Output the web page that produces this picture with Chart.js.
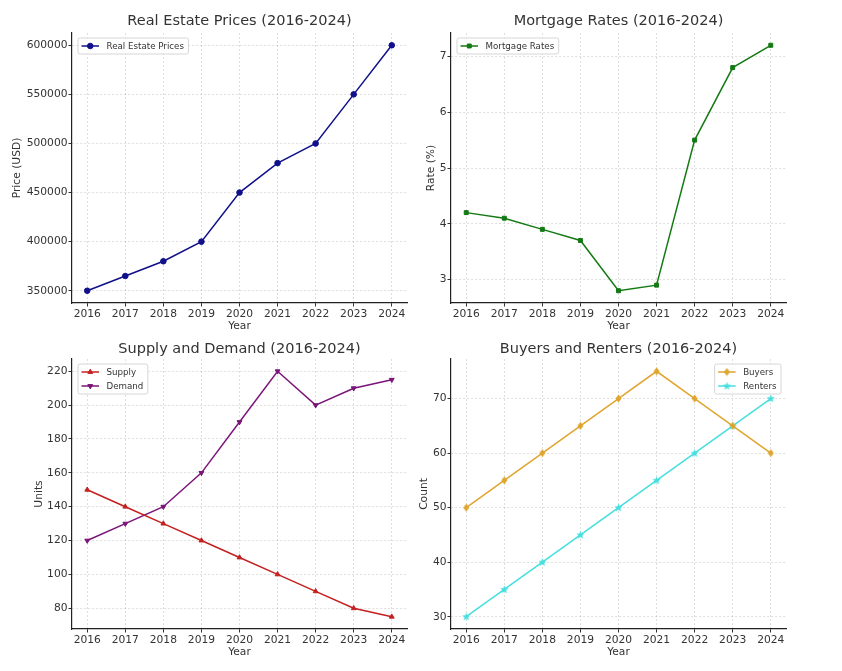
<!DOCTYPE html>
<html>
<head>
<meta charset="utf-8">
<script src="https://cdn.jsdelivr.net/npm/chart.js@4"></script>
<style>
  body { margin: 0; background: #fff; }
  #wrap { position: relative; width: 842px; height: 671px; }
  canvas { position: absolute; }
</style>
</head>
<body>
<div id="wrap">
  <canvas id="prices" width="421" height="335" style="left:0;top:0"></canvas>
  <canvas id="rates" width="428" height="335" style="left:414px;top:0"></canvas>
  <canvas id="supplyDemand" width="421" height="336" style="left:0;top:335px"></canvas>
  <canvas id="buyersRenters" width="428" height="336" style="left:414px;top:335px"></canvas>
</div>
<script>
const years = [2016, 2017, 2018, 2019, 2020, 2021, 2022, 2023, 2024]
const prices = [350000, 365000, 380000, 400000, 450000, 480000, 500000, 550000, 600000]
const rates = [4.2, 4.1, 3.9, 3.7, 2.8, 2.9, 5.5, 6.8, 7.2]
const supply = [150, 140, 130, 120, 110, 100, 90, 80, 75]
const demand = [120, 130, 140, 160, 190, 220, 200, 210, 215]
const buyers = [50, 55, 60, 65, 70, 75, 70, 65, 60]
const renters = [30, 35, 40, 45, 50, 55, 60, 65, 70]

// tick labels as they show on each y axis
const priceTicks = [350000, 400000, 450000, 500000, 550000, 600000]
const rateTicks = [3, 4, 5, 6, 7]
const unitTicks = [80, 100, 120, 140, 160, 180, 200, 220]
const countTicks = [30, 40, 50, 60, 70]

const FONT = 'DejaVu Sans'
const TEXT = '#333'

// little canvases for the markers chart.js doesn't have
const makeMarker = (color, kind) => {
  const c = document.createElement('canvas')
  c.width = 9
  c.height = 9
  const g = c.getContext('2d')
  g.fillStyle = color
  g.beginPath()
  if (kind === 'thinDiamond') {
    g.moveTo(4.5, 0.5); g.lineTo(7.5, 4.5); g.lineTo(4.5, 8.5); g.lineTo(1.5, 4.5)
  } else {
    for (let i = 0; i < 10; i++) {
      const r = i % 2 === 0 ? 4.3 : 1.9
      const a = -Math.PI / 2 + i * Math.PI / 5
      const px = 4.5 + r * Math.cos(a), py = 4.7 + r * Math.sin(a)
      i === 0 ? g.moveTo(px, py) : g.lineTo(px, py)
    }
  }
  g.closePath()
  g.fill()
  return c
}

const toPoints = (vals) => vals.map((v, i) => ({ x: years[i], y: v }))

const serie = (label, vals, color, pointStyle, rotation = 0) => ({
  label,
  data: toPoints(vals),
  borderColor: color,
  backgroundColor: color,
  borderWidth: 1.5,
  pointStyle,
  rotation,
  pointRadius: 2.8,
  pointHoverRadius: 2.8,
  pointBorderWidth: 1,
  tension: 0
})

// matplotlib-like legend box inside the axes
const boxLegend = {
  id: 'boxLegend',
  afterDatasetsDraw(chart, args, opts) {
    const ctx = chart.ctx
    const area = chart.chartArea
    const sets = chart.data.datasets
    ctx.save()
    ctx.font = '8.7px "' + FONT + '"'
    const textW = Math.max(...sets.map(d => ctx.measureText(d.label).width))
    const w = 28.5 + textW + 4.5
    const h = 16 + (sets.length - 1) * 14
    const x = opts.corner === 'right' ? area.right - 5 - w : area.left + 6
    const y = area.top + 5
    ctx.beginPath()
    ctx.roundRect(x, y, w, h, 2)
    ctx.fillStyle = 'rgba(255,255,255,0.85)'
    ctx.fill()
    ctx.strokeStyle = '#d6d6d6'
    ctx.lineWidth = 1
    ctx.stroke()
    sets.forEach((d, i) => {
      const cy = y + 8 + i * 14
      ctx.strokeStyle = d.borderColor
      ctx.lineWidth = d.borderWidth
      ctx.beginPath()
      ctx.moveTo(x + 3.5, cy)
      ctx.lineTo(x + 21, cy)
      ctx.stroke()
      ctx.fillStyle = d.backgroundColor
      ctx.lineWidth = 1
      Chart.helpers.drawPoint(ctx, { pointStyle: d.pointStyle, rotation: d.rotation, radius: 2.8, borderWidth: 1 }, x + 12.25, cy)
      ctx.fillStyle = TEXT
      ctx.textBaseline = 'middle'
      ctx.textAlign = 'left'
      ctx.fillText(d.label, x + 28.5, cy + 0.5)
    })
    ctx.restore()
  }
}

const renderPanel = (id, cfg) => {
  const tickFont = { family: FONT, size: 10.7 }
  new Chart(document.getElementById(id), {
    type: 'line',
    data: { datasets: cfg.datasets },
    plugins: [boxLegend],
    options: {
      responsive: false,
      animation: false,
      events: [],
      layout: { padding: cfg.padding },
      plugins: {
        legend: { display: false },
        tooltip: { enabled: false },
        boxLegend: { corner: cfg.legendCorner },
        title: {
          display: true,
          text: cfg.title,
          fullSize: false,
          color: TEXT,
          font: { family: FONT, size: 14.5, weight: 'normal', lineHeight: 1.2 },
          padding: cfg.titlePad
        }
      },
      scales: {
        x: {
          type: 'linear',
          min: years[0] - 0.4,
          max: years[years.length - 1] + 0.4,
          afterFit: (s) => { s.height = 32 },
          afterBuildTicks: (s) => { s.ticks = years.map(v => ({ value: v })) },
          ticks: {
            maxRotation: 0,
            autoSkip: false,
            padding: 1,
            color: TEXT,
            font: tickFont,
            callback: (v) => String(v)
          },
          grid: {
            color: 'rgba(0,0,0,0.13)',
            tickLength: 3.5,
            tickColor: '#333',
            tickBorderDash: []
          },
          border: { display: true, color: '#222', width: 1.2, dash: [2, 2] },
          title: { display: true, text: 'Year', color: TEXT, font: { family: FONT, size: 10.7 }, padding: { top: 0, bottom: 2.4 } }
        },
        y: {
          type: 'linear',
          min: cfg.yMin,
          max: cfg.yMax,
          afterFit: (s) => { s.width = cfg.yWidth },
          afterBuildTicks: (s) => { s.ticks = cfg.yTicks.map(v => ({ value: v })) },
          ticks: {
            autoSkip: false,
            padding: 1,
            color: TEXT,
            font: tickFont,
            callback: (v) => String(v)
          },
          grid: {
            color: 'rgba(0,0,0,0.13)',
            tickLength: 3.5,
            tickColor: '#333',
            tickBorderDash: []
          },
          border: { display: true, color: '#222', width: 1.2, dash: [2, 2] },
          title: { display: true, text: cfg.yTitle, color: TEXT, font: { family: FONT, size: 10.7 }, padding: { top: cfg.yTitlePad, bottom: 0 } }
        }
      }
    }
  })
}

renderPanel('prices', {
  title: 'Real Estate Prices (2016-2024)',
  datasets: [serie('Real Estate Prices', prices, '#10108a', 'circle')],
  yMin: 337500, yMax: 612500, yTicks: priceTicks,
  yTitle: 'Price (USD)', yTitlePad: 10.6, yWidth: 72,
  padding: { left: 0, right: 14, top: 0, bottom: 0 },
  titlePad: { top: 13, bottom: 2.6 },
  legendCorner: 'left'
})

renderPanel('rates', {
  title: 'Mortgage Rates (2016-2024)',
  datasets: [serie('Mortgage Rates', rates, '#137a13', 'rect')],
  yMin: 2.58, yMax: 7.42, yTicks: rateTicks,
  yTitle: 'Rate (%)', yTitlePad: 10.6, yWidth: 37,
  padding: { left: 0, right: 56, top: 0, bottom: 0 },
  titlePad: { top: 13, bottom: 2.6 },
  legendCorner: 'left'
})

renderPanel('supplyDemand', {
  title: 'Supply and Demand (2016-2024)',
  datasets: [
    serie('Supply', supply, '#c42020', 'triangle'),
    serie('Demand', demand, '#7a1478', 'triangle', 180)
  ],
  yMin: 67.75, yMax: 227.25, yTicks: unitTicks,
  yTitle: 'Units', yTitlePad: 32.6, yWidth: 72,
  padding: { left: 0, right: 14, top: 0, bottom: 10 },
  titlePad: { top: 5.3, bottom: 1.3 },
  legendCorner: 'left'
})

renderPanel('buyersRenters', {
  title: 'Buyers and Renters (2016-2024)',
  datasets: [
    serie('Buyers', buyers, '#dfa52e', makeMarker('#dfa52e', 'thinDiamond')),
    serie('Renters', renters, '#45dfdf', makeMarker('#45dfdf', 'star'))
  ],
  yMin: 27.75, yMax: 77.25, yTicks: countTicks,
  yTitle: 'Count', yTitlePad: 3.6, yWidth: 37,
  padding: { left: 0, right: 56, top: 0, bottom: 10 },
  titlePad: { top: 5.3, bottom: 1.3 },
  legendCorner: 'right'
})
</script>
</body>
</html>
